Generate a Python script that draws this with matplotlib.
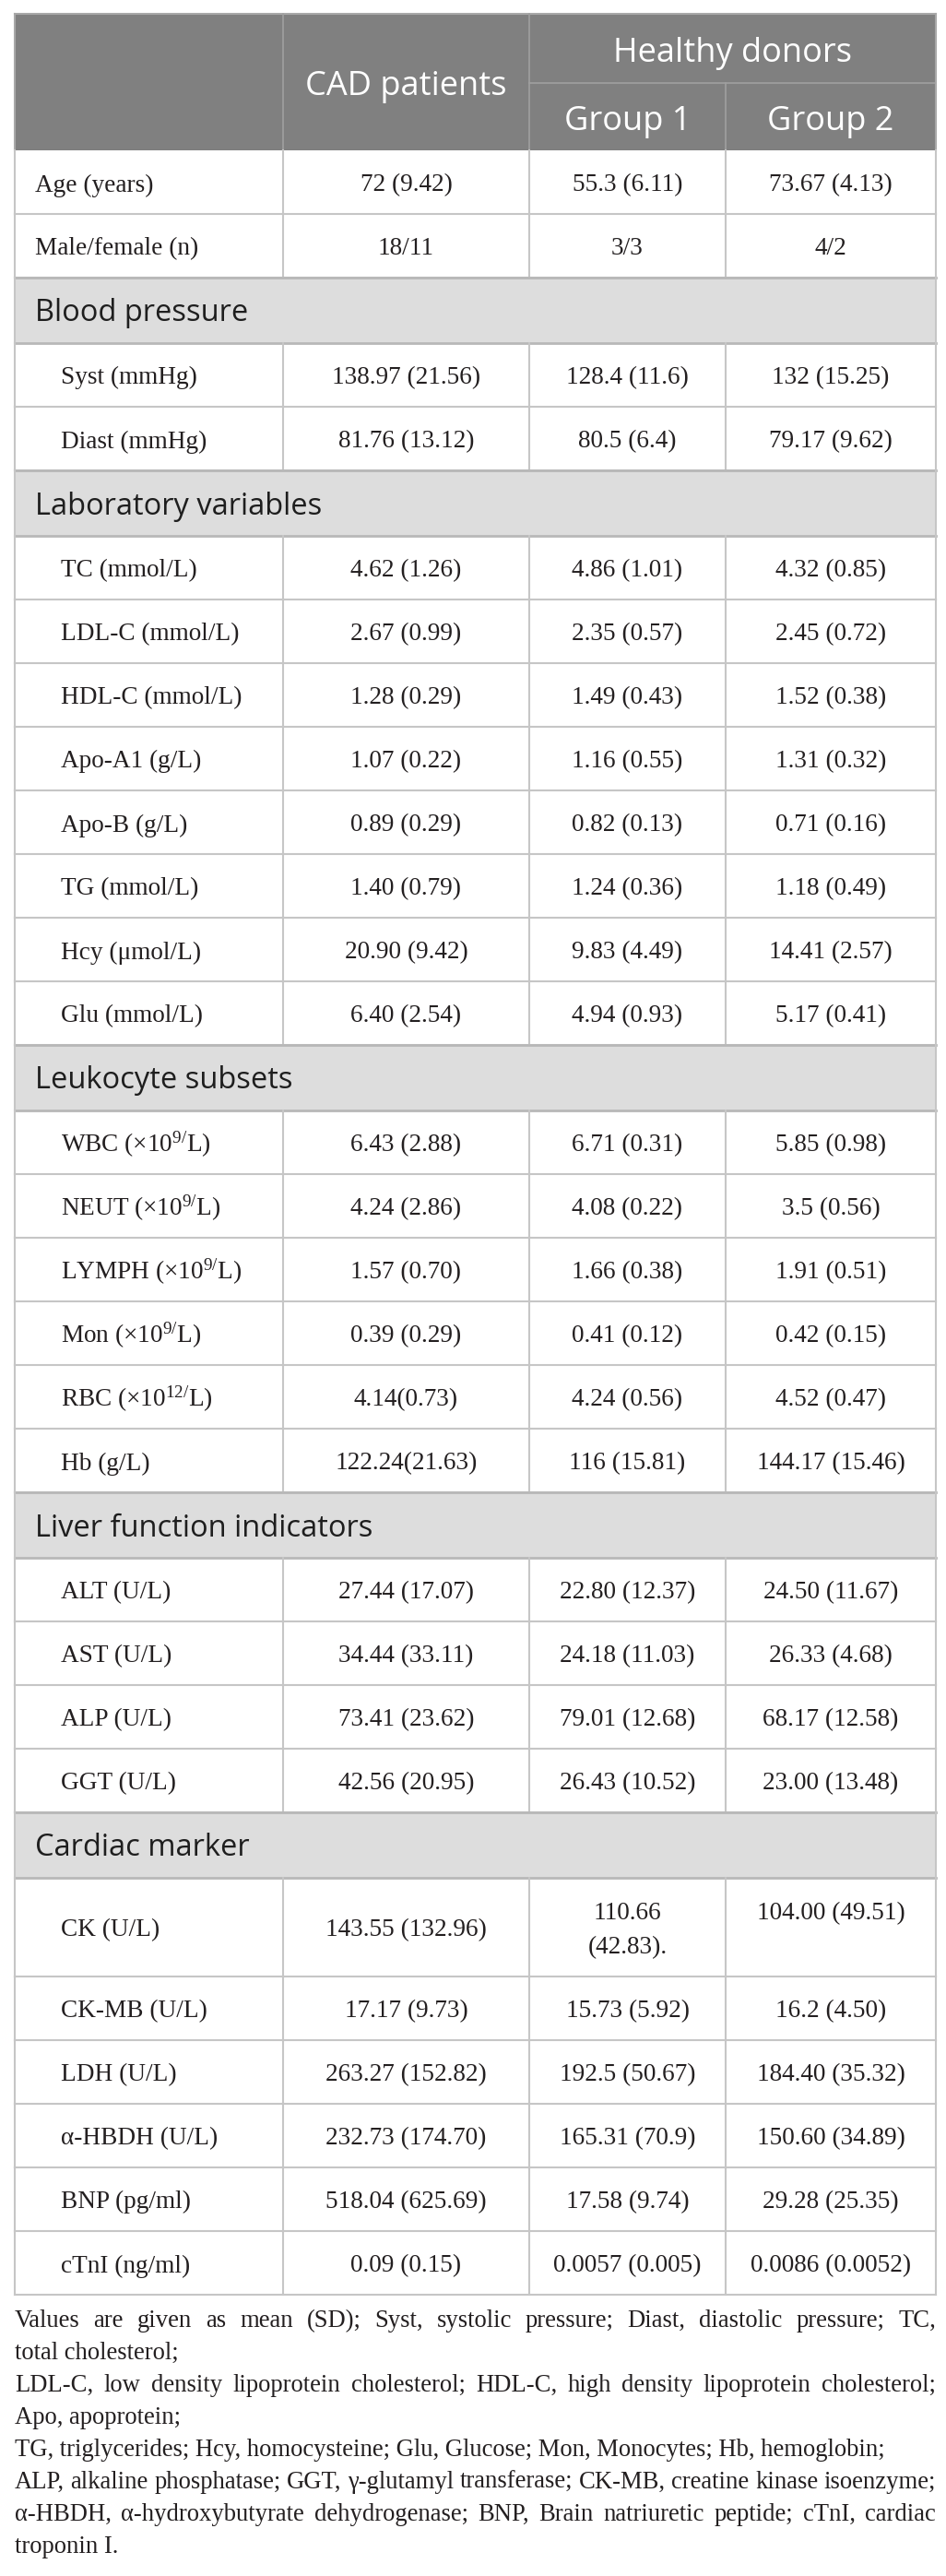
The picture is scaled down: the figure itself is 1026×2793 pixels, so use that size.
import matplotlib.pyplot as plt
from matplotlib.patches import Rectangle

plt.rcParams['mathtext.fontset'] = 'custom'
plt.rcParams['mathtext.rm'] = 'Liberation Serif'
plt.rcParams['mathtext.it'] = 'Liberation Serif:italic'

# table contents (None in value columns = section title row)
row_labels = ["Age (years)", "Male/female (n)",
              "Blood pressure", "Syst (mmHg)", "Diast (mmHg)",
              "Laboratory variables", "TC (mmol/L)", "LDL-C (mmol/L)", "HDL-C (mmol/L)",
              "Apo-A1 (g/L)", "Apo-B (g/L)", "TG (mmol/L)", "Hcy (μmol/L)", "Glu (mmol/L)",
              "Leukocyte subsets", "WBC (×10$^{9/}$L)", "NEUT (×10$^{9/}$L)", "LYMPH (×10$^{9/}$L)",
              "Mon (×10$^{9/}$L)", "RBC (×10$^{12/}$L)", "Hb (g/L)",
              "Liver function indicators", "ALT (U/L)", "AST (U/L)", "ALP (U/L)", "GGT (U/L)",
              "Cardiac marker", "CK (U/L)", "CK-MB (U/L)", "LDH (U/L)", "α-HBDH (U/L)",
              "BNP (pg/ml)", "cTnI (ng/ml)"]
cad_patients = ["72 (9.42)", "18/11",
                None, "138.97 (21.56)", "81.76 (13.12)",
                None, "4.62 (1.26)", "2.67 (0.99)", "1.28 (0.29)", "1.07 (0.22)", "0.89 (0.29)",
                "1.40 (0.79)", "20.90 (9.42)", "6.40 (2.54)",
                None, "6.43 (2.88)", "4.24 (2.86)", "1.57 (0.70)", "0.39 (0.29)", "4.14(0.73)",
                "122.24(21.63)",
                None, "27.44 (17.07)", "34.44 (33.11)", "73.41 (23.62)", "42.56 (20.95)",
                None, "143.55 (132.96)", "17.17 (9.73)", "263.27 (152.82)", "232.73 (174.70)",
                "518.04 (625.69)", "0.09 (0.15)"]
group1 = ["55.3 (6.11)", "3/3",
          None, "128.4 (11.6)", "80.5 (6.4)",
          None, "4.86 (1.01)", "2.35 (0.57)", "1.49 (0.43)", "1.16 (0.55)", "0.82 (0.13)",
          "1.24 (0.36)", "9.83 (4.49)", "4.94 (0.93)",
          None, "6.71 (0.31)", "4.08 (0.22)", "1.66 (0.38)", "0.41 (0.12)", "4.24 (0.56)",
          "116 (15.81)",
          None, "22.80 (12.37)", "24.18 (11.03)", "79.01 (12.68)", "26.43 (10.52)",
          None, "110.66\n(42.83).", "15.73 (5.92)", "192.5 (50.67)", "165.31 (70.9)",
          "17.58 (9.74)", "0.0057 (0.005)"]
group2 = ["73.67 (4.13)", "4/2",
          None, "132 (15.25)", "79.17 (9.62)",
          None, "4.32 (0.85)", "2.45 (0.72)", "1.52 (0.38)", "1.31 (0.32)", "0.71 (0.16)",
          "1.18 (0.49)", "14.41 (2.57)", "5.17 (0.41)",
          None, "5.85 (0.98)", "3.5 (0.56)", "1.91 (0.51)", "0.42 (0.15)", "4.52 (0.47)",
          "144.17 (15.46)",
          None, "24.50 (11.67)", "26.33 (4.68)", "68.17 (12.58)", "23.00 (13.48)",
          None, "104.00 (49.51)", "16.2 (4.50)", "184.40 (35.32)", "150.60 (34.89)",
          "29.28 (25.35)", "0.0086 (0.0052)"]

header_main = "CAD patients"
header_span = "Healthy donors"
header_groups = ["Group 1", "Group 2"]

footnote = [
    ("Values are given as mean (SD); Syst, systolic pressure; Diast, diastolic pressure; TC,", True),
    ("total cholesterol;", False),
    ("LDL-C, low density lipoprotein cholesterol; HDL-C, high density lipoprotein cholesterol;", True),
    ("Apo, apoprotein;", False),
    ("TG, triglycerides; Hcy, homocysteine; Glu, Glucose; Mon, Monocytes; Hb, hemoglobin;", False),
    ("ALP, alkaline phosphatase; GGT, γ-glutamyl transferase; CK-MB, creatine kinase isoenzyme;", True),
    ("α-HBDH, α-hydroxybutyrate dehydrogenase; BNP, Brain natriuretic peptide; cTnI, cardiac", True),
    ("troponin I.", False),
]

# layout (pixels)
W, H = 1026, 2793
left, right = 16, 1015
col_x = [16, 307, 574, 787, 1015]
col_c = [(col_x[i] + col_x[i + 1]) / 2 for i in range(4)]
top, head_split, head_bot = 15, 90, 163

serif = 'Liberation Serif'
sans = 'Open Sans'
body_fs = 19.6
note_fs = 19.2
line_col = '#c6c6c6'
ink = '#231f20'
line_step = 37

fig = plt.figure(figsize=(W / 100, H / 100), dpi=100)
ax = fig.add_axes([0, 0, 1, 1])
ax.set_xlim(0, W)
ax.set_ylim(H, 0)
ax.axis('off')

# header
ax.add_patch(Rectangle((left, top), right - left, head_bot - top, color='#808080', lw=0))
ax.plot([left, right], [top, top], color='#a8a8a8', lw=1.5)
ax.plot([col_x[2], right], [head_split, head_split], color='#a0a0a0', lw=1.2)
for x in col_x[1:3]:
    ax.plot([x, x], [top, head_bot], color='#a0a0a0', lw=1.2)
ax.plot([col_x[3], col_x[3]], [head_split, head_bot], color='#a0a0a0', lw=1.2)
ax.plot([left, left], [top, head_bot], color='#a8a8a8', lw=1.5)
ax.plot([right, right], [top, head_bot], color='#a8a8a8', lw=1.5)

hkw = dict(family=sans, color='white', fontsize=26, ha='center', va='baseline')
ax.text(col_c[1], (top + head_bot) / 2 + 14, header_main, **hkw)
ax.text((col_x[2] + right) / 2, (top + head_split) / 2 + 14, header_span, **hkw)
for c, g in zip(col_c[2:], header_groups):
    ax.text(c, (head_split + head_bot) / 2 + 14, g, **hkw)


def cell(x, base_y, s, ha='center'):
    ax.text(x, base_y, s, family=serif, fontsize=body_fs, color=ink, ha=ha, va='baseline')


# body rows
y = head_bot
in_section = False
for lab, v0, v1, v2 in zip(row_labels, cad_patients, group1, group2):
    vals = [v0, v1, v2]
    if v0 is None:
        h = 71
        in_section = True
        ax.add_patch(Rectangle((left, y), right - left, h, color='#dddddd', lw=0))
        ax.text(38, y + h / 2 + 12, lab, family=sans, fontsize=23.5, color='#1e1e1e',
                ha='left', va='baseline')
        ax.plot([left, right], [y, y], color='#b8b8b8', lw=2)
        ax.plot([left, right], [y + h, y + h], color='#b8b8b8', lw=2)
        for x in (left, right):
            ax.plot([x, x], [y, y + h], color=line_col, lw=1.5)
        y += h
        continue
    tall = any('\n' in v for v in vals)
    h = 107 if tall else 69
    mid = y + h / 2
    cell(66 if in_section else 38, mid + 10, lab, ha='left')
    first_base = mid - line_step / 2 + 10
    for c, v in zip(col_c[1:], vals):
        if '\n' in v:
            for k, part in enumerate(v.split('\n')):
                cell(c, first_base + k * line_step, part)
        elif tall and c == col_c[3]:
            # the reference puts this cell on the top line of the tall row
            cell(c, first_base, v)
        else:
            cell(c, mid + 10, v)
    ax.plot([left, right], [y + h, y + h], color=line_col, lw=1.5)
    for x in col_x:
        ax.plot([x, x], [y, y + h], color=line_col, lw=1.5)
    y += h

# footnote, justified lines where the reference justifies them
renderer = fig.canvas.get_renderer()
base = 2523
for i, (line, justify) in enumerate(footnote):
    by = base + i * 35
    if not justify:
        ax.text(left, by, line, family=serif, fontsize=note_fs, color=ink, ha='left', va='baseline')
        continue
    words = line.split(' ')
    fs = note_fs
    while True:
        texts = [ax.text(0, by, w, family=serif, fontsize=fs, color=ink, ha='left',
                         va='baseline') for w in words]
        widths = [t.get_window_extent(renderer).width for t in texts]
        gap = (right - left - sum(widths)) / (len(words) - 1)
        if gap >= fs * 0.25 or fs < 15:
            break
        for t in texts:
            t.remove()
        fs -= 0.3
    x = left
    for t, w in zip(texts, widths):
        t.set_x(x)
        x += w + gap

fig.savefig('out.png', dpi=100)
